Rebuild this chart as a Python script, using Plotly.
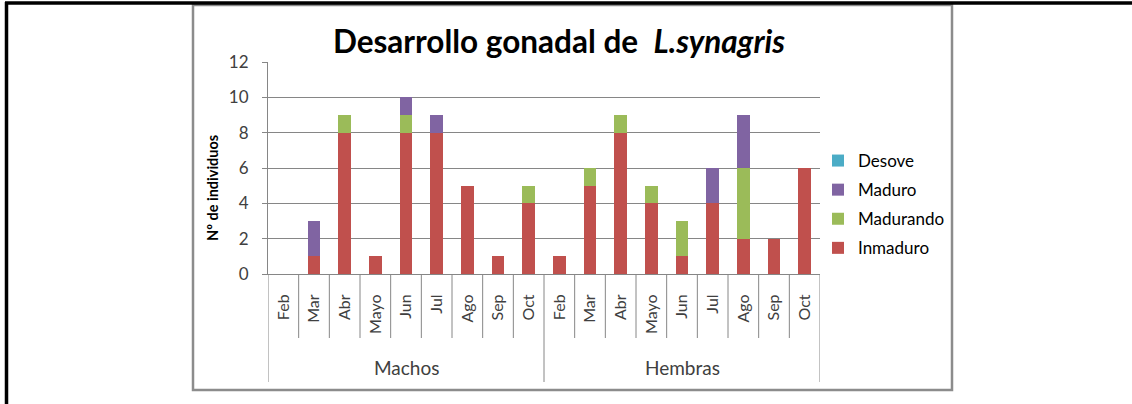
import plotly.graph_objects as go

# ---- data ----
grupos = ["Machos", "Hembras"]
meses = ["Feb", "Mar", "Abr", "Mayo", "Jun", "Jul", "Ago", "Sep", "Oct"]
inmaduro = [0, 1, 8, 1, 8, 8, 5, 1, 4, 1, 5, 8, 4, 1, 4, 2, 2, 6]
madurando = [0, 0, 1, 0, 1, 0, 0, 0, 1, 0, 1, 1, 1, 2, 0, 4, 0, 0]
maduro = [0, 2, 0, 0, 1, 1, 0, 0, 0, 0, 0, 0, 0, 0, 2, 3, 0, 0]
desove = [0, 0, 0, 0, 0, 0, 0, 0, 0, 0, 0, 0, 0, 0, 0, 0, 0, 0]
y_ticks = [0, 2, 4, 6, 8, 10, 12]

labels = [m for g in grupos for m in meses]
xpos = list(range(len(labels)))

W, H = 1132, 404
L, R, T, B = 268, 820, 62, 274  # plot area in pixels


def px(x):
    return (x - L) / (R - L)


def py(y):
    return (B - y) / (B - T)


FONT = "Lato"
GRID = "#868686"

fig = go.Figure()
series = [
    ("Inmaduro", inmaduro, "#C0504D", 4),
    ("Madurando", madurando, "#9BBB59", 3),
    ("Maduro", maduro, "#8064A2", 2),
    ("Desove", desove, "#4BACC6", 1),
]
for name, vals, col, rank in series:
    fig.add_trace(go.Bar(
        x=xpos, y=vals, name=name, width=0.42,
        marker=dict(color=col, line=dict(width=0)),
        legendgroup=name, legendrank=rank,
    ))

shapes = []
n = len(labels)
for i in range(n + 1):
    deep = i in (0, len(meses), n)
    shapes.append(dict(type="line", xref="x", yref="paper",
                       x0=i - 0.5, x1=i - 0.5, y0=0,
                       y1=py(382) if deep else py(338),
                       line=dict(color=GRID, width=1)))
# chart frame (gray)
shapes.append(dict(type="rect", xref="paper", yref="paper",
                   x0=px(193), x1=px(952), y0=py(390), y1=py(5),
                   line=dict(color="#8C8C8C", width=2.5)))
# outer black border lines
shapes.append(dict(type="line", xref="paper", yref="paper",
                   x0=px(5), x1=px(1132), y0=py(3), y1=py(3),
                   line=dict(color="black", width=3.5)))
shapes.append(dict(type="line", xref="paper", yref="paper",
                   x0=px(6.5), x1=px(6.5), y0=py(2), y1=py(410),
                   line=dict(color="black", width=3.5)))

annotations = []
for gi, g in enumerate(grupos):
    center = gi * len(meses) + (len(meses) - 1) / 2
    annotations.append(dict(x=center, xref="x", y=py(367), yref="paper",
                            xanchor="center", yanchor="middle",
                            text=g, showarrow=False,
                            font=dict(family=FONT, size=19, color="#404040")))
annotations.append(dict(x=px(212), xref="paper", y=py(188), yref="paper",
                        xanchor="center", yanchor="middle",
                        text="<b>Nº de individuos</b>", textangle=-90,
                        showarrow=False,
                        font=dict(family=FONT, size=14.5, color="black")))

fig.update_layout(
    width=W, height=H,
    margin=dict(l=L, r=W - R, t=T, b=H - B, autoexpand=False),
    barmode="stack",
    plot_bgcolor="white", paper_bgcolor="white",
    title=dict(text="<b>Desarrollo gonadal de\u00a0\u00a0<i>L.synagris</i></b>",
               xref="container", yref="container",
               x=559 / W, xanchor="center", y=1 - 42 / H, yanchor="middle",
               font=dict(family=FONT, size=31.5, color="black")),
    xaxis=dict(range=[-0.5, n - 0.5], tickmode="array", tickvals=xpos,
               ticktext=labels, tickangle=-90, ticks="", showgrid=False,
               showline=True, linecolor=GRID, linewidth=1,
               ticklabelstandoff=13,
               tickfont=dict(family=FONT, size=16, color="#404040"),
               fixedrange=True),
    yaxis=dict(range=[0, 12], tickmode="array", tickvals=y_ticks,
               showgrid=True, gridcolor=GRID, gridwidth=1,
               showline=True, linecolor=GRID, linewidth=1,
               ticks="outside", ticklen=5, tickcolor=GRID,
               zeroline=False,
               tickfont=dict(family=FONT, size=17, color="#404040"),
               ticklabelstandoff=10),
    legend=dict(x=px(818), xanchor="left", y=py(143), yanchor="top",
                traceorder="grouped", tracegroupgap=4,
                font=dict(family=FONT, size=17, color="black"),
                bgcolor="rgba(0,0,0,0)"),
    shapes=shapes,
    annotations=annotations,
    bargap=0.5,
)

fig.write_html("out.html",
               config={"displayModeBar": False},
               post_script="document.body.style.margin='0';")
